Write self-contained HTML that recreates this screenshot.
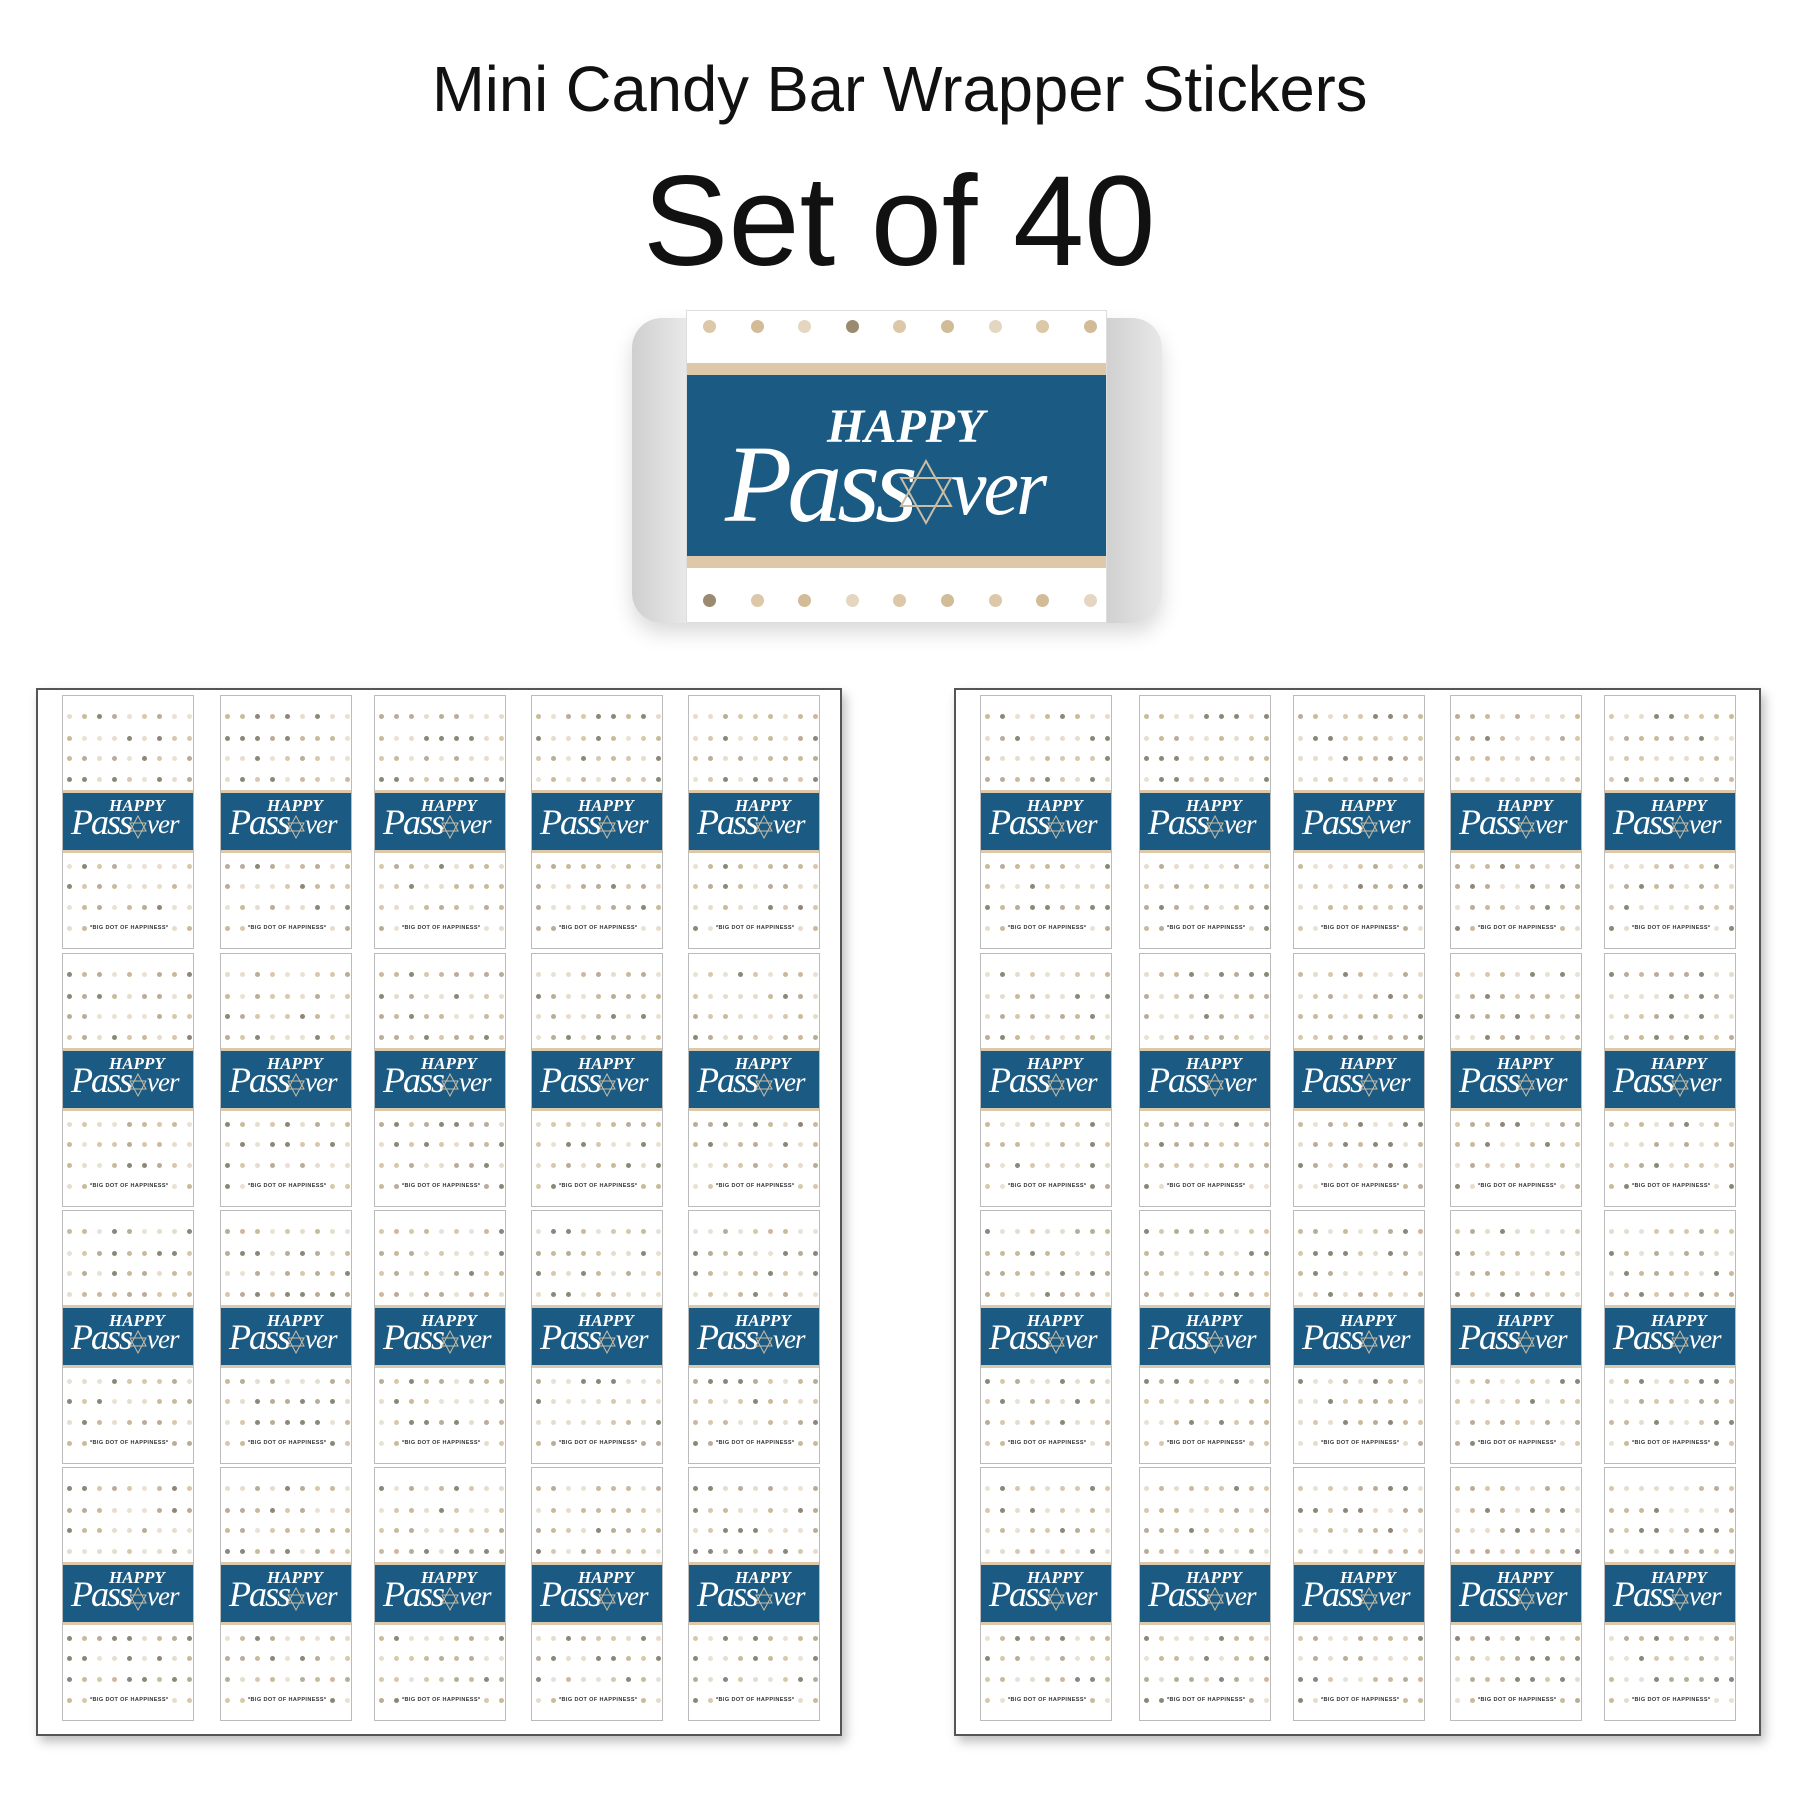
<!DOCTYPE html>
<html><head><meta charset="utf-8"><style>
html,body{margin:0;padding:0;background:#fff;}
body{width:1800px;height:1800px;position:relative;overflow:hidden;font-family:"Liberation Sans",sans-serif;}
.t{position:absolute;white-space:nowrap;color:#111;transform-origin:0 0;}
.sheet{position:absolute;border:2px solid #555;background:#fff;box-shadow:4px 6px 10px rgba(0,0,0,.25);box-sizing:border-box;}
.st{position:absolute;width:132px;height:254px;border:1px solid #bbb;box-sizing:border-box;background:#fff;}
.band{position:absolute;left:0;right:0;top:94px;height:57px;background:#1b5a82;border-top:3px solid #dcc8ab;border-bottom:3px solid #dcc8ab;overflow:hidden;}
.dot{position:absolute;width:5px;height:5px;border-radius:50%;}
.hp{position:absolute;color:#fff;font-family:"Liberation Serif",serif;font-weight:bold;font-style:italic;}
.pv{position:absolute;color:#fff;font-family:"Liberation Serif",serif;font-style:italic;}
.bd{position:absolute;left:27px;top:229px;font-size:5.5px;color:#333;letter-spacing:.4px;font-weight:bold;white-space:nowrap;}
</style></head><body>
<div class="t" style="left:432px;top:52px;font-size:64px;transform:scaleX(0.99);">Mini Candy Bar Wrapper Stickers</div>
<div class="t" style="left:643px;top:148px;font-size:128px;">Set of 40</div>

<!-- candy bar -->
<div style="position:absolute;left:632px;top:318px;width:530px;height:305px;border-radius:30px;background:linear-gradient(90deg,#cfcfcf,#f4f4f4 15%,#bdbdbd 30%,#eee 70%,#c6c6c6 85%,#e8e8e8);box-shadow:0 10px 20px rgba(0,0,0,.15);"></div>
<div id="label" style="position:absolute;left:686px;top:310px;width:421px;height:313px;background:#fff;border:1px solid #ddd;box-sizing:border-box;">
 <div style="position:absolute;left:0;right:0;top:52px;height:12px;background:#ddc8aa;"></div>
 <div style="position:absolute;left:0;right:0;top:64px;height:181px;background:#1b5a82;"></div>
 <div style="position:absolute;left:0;right:0;top:245px;height:12px;background:#ddc8aa;"></div>
 <div id="ldots"></div>
 <div class="hp" style="left:140px;top:88px;font-size:48px;">HAPPY</div>
 <div class="pv" style="left:38px;top:110px;font-size:110px;letter-spacing:-5px;">Pass</div>
 <div class="pv" style="left:264px;top:132px;font-size:80px;letter-spacing:-3px;">ver</div>
 <svg style="position:absolute;left:212px;top:148px" width="54" height="66" viewBox="0 0 54 66"><polygon points="27,2 52,47 2,47" fill="none" stroke="#c9bda5" stroke-width="2"/><polygon points="27,64 52,19 2,19" fill="none" stroke="#c9bda5" stroke-width="2"/></svg>
</div>

<div class="sheet" style="left:36px;top:688px;width:806px;height:1048px;"></div>
<div class="sheet" style="left:954px;top:688px;width:807px;height:1048px;"></div>
<div id="stk"></div>
<script>
var cols=[62,220,374,531,688,980,1139,1293,1450,1604],rows=[695,953,1210,1467];
var cs=['#d8c7aa','#e6dccb','#8d8779','#cbb99b','#e9e1d4','#b9ad97'];
var h='',s=1;
function r(){s=(s*9301+49297)%233280;return s/233280;}
var lc=['#dcc8a8','#d2bc98','#e4d6c0','#9a8a70','#dcc8a8','#d2bc98','#e4d6c0','#dcc8a8','#d2bc98'];
var ld='';
for(var i=0;i<9;i++){var x=16+i*47.6;
 ld+='<div style="position:absolute;left:'+x+'px;top:9px;width:13px;height:13px;border-radius:50%;background:'+lc[i]+'"></div>';
 ld+='<div style="position:absolute;left:'+x+'px;top:283px;width:13px;height:13px;border-radius:50%;background:'+lc[(i+3)%9]+'"></div>';}
document.getElementById('ldots').innerHTML=ld;
cols.forEach(function(x){rows.forEach(function(y){
 var d='';
 var ys=[18,40,60,81,168,188,209,230];
 ys.forEach(function(yy,ri){for(var c=0;c<9;c++){var xx=4+c*15;
  if(ri==7&&c>=2&&c<=6)continue;
  d+='<div class="dot" style="left:'+xx+'px;top:'+yy+'px;background:'+cs[Math.floor(r()*6)]+'"></div>';}});
 h+='<div class="st" style="left:'+x+'px;top:'+y+'px">'+d+
 '<div class="band"><div class="hp" style="left:46px;top:3px;font-size:17px">HAPPY</div><div class="pv" style="left:8px;top:8px;font-size:36px;letter-spacing:-2px">Pass</div><div class="pv" style="left:84px;top:16px;font-size:27px;letter-spacing:-1px">ver</div>'+
 '<svg style="position:absolute;left:66px;top:22px" width="18" height="24" viewBox="0 0 18 24"><polygon points="9,1 17,16 1,16" fill="none" stroke="#c9bda5"/><polygon points="9,23 17,8 1,8" fill="none" stroke="#c9bda5"/></svg></div>'+
 '<div class="bd">*BIG DOT OF HAPPINESS*</div></div>';
});});
document.getElementById('stk').innerHTML=h;
</script>
</body></html>
